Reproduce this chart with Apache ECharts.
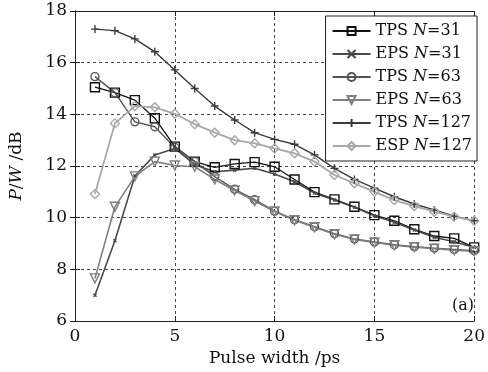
<!DOCTYPE html>
<html>
<head>
<meta charset="utf-8">
<script src="https://cdn.jsdelivr.net/npm/echarts@6/dist/echarts.min.js"></script>
<style>
  html, body { margin: 0; padding: 0; background: #fff; }
  #chart { width: 488px; height: 372px; }
</style>
</head>
<body>
<div id="chart"></div>
<script>
// Pulse width (ps)
const pulseWidth = [1, 2, 3, 4, 5, 6, 7, 8, 9, 10, 11, 12, 13, 14, 15, 16, 17, 18, 19, 20];

// P/W in dB for each scheme and code length
const tps31  = [15.05, 14.84, 14.55, 13.85, 12.75, 12.17, 11.95, 12.08, 12.15, 11.97, 11.48, 10.99, 10.71, 10.42, 10.10, 9.88, 9.55, 9.29, 9.20, 8.85];
const eps31  = [7.00, 9.11, 11.61, 12.43, 12.68, 12.05, 11.78, 11.84, 11.91, 11.69, 11.39, 10.95, 10.68, 10.40, 10.07, 9.82, 9.52, 9.24, 9.07, 8.85];
const tps63  = [15.46, 14.84, 13.71, 13.52, 12.72, 12.17, 11.59, 11.10, 10.70, 10.25, 9.92, 9.65, 9.38, 9.18, 9.06, 8.95, 8.88, 8.82, 8.77, 8.72];
const eps63  = [7.65, 10.42, 11.60, 12.17, 12.02, 11.97, 11.48, 11.05, 10.64, 10.24, 9.90, 9.63, 9.36, 9.16, 9.04, 8.93, 8.86, 8.80, 8.74, 8.70];
const tps127 = [17.30, 17.24, 16.92, 16.42, 15.72, 15.00, 14.32, 13.78, 13.29, 13.03, 12.84, 12.43, 11.91, 11.48, 11.14, 10.81, 10.53, 10.30, 10.06, 9.88];
const esp127 = [10.92, 13.65, 14.32, 14.27, 14.02, 13.62, 13.29, 13.00, 12.88, 12.68, 12.49, 12.17, 11.65, 11.33, 11.00, 10.68, 10.45, 10.23, 10.04, 9.88];

// Axis ticks
const xTicks = [0, 5, 10, 15, 20];
const yTicks = [6, 8, 10, 12, 14, 16, 18];

const FONT = 'DejaVu Serif';
const plus = 'path://M0,-10 L0,10 M-10,0 L10,0';
const cross = 'path://M-10,-10 L10,10 M-10,10 L10,-10';

function pairs(ys) { return pulseWidth.map((x, i) => [x, ys[i]]); }

function makeSeries(name, ys, color, symbol, size, rotate, width) {
  return {
    name: name,
    type: 'line',
    data: pairs(ys),
    symbol: symbol,
    symbolSize: size,
    symbolRotate: rotate || 0,
    showAllSymbol: true,
    lineStyle: { color: color, width: width || 1.4 },
    itemStyle: { color: 'rgba(255,255,255,0)', borderColor: color, borderWidth: 1.4 },
    emphasis: { disabled: true },
    animation: false,
    z: 3
  };
}

const series = [
  makeSeries('TPS N=31', tps31, '#111111', 'rect', 9, 0, 1.3),
  makeSeries('EPS N=31', eps31, '#4a4a4a', cross, 3, 0, 1.6),
  makeSeries('TPS N=63', tps63, '#555555', 'circle', 8, 0, 1.4),
  makeSeries('EPS N=63', eps63, '#808080', 'triangle', 9, 180, 1.6),
  makeSeries('TPS N=127', tps127, '#3a3a3a', plus, 8, 0, 1.4),
  makeSeries('ESP N=127', esp127, '#a8a8a8', 'diamond', 9, 0, 1.8)
];

function legendLabel(name) {
  const m = name.match(/^(\S+) N(=\d+)$/);
  return '{r|' + m[1] + ' }{i|N}{r|' + m[2] + '}';
}

const chart = echarts.init(document.getElementById('chart'), null, { renderer: 'canvas' });

const axisCommon = {
  axisLine: { show: true, lineStyle: { color: '#222', width: 1 } },
  axisTick: { show: true, inside: true, length: 5, lineStyle: { color: '#222' } },
  splitLine: { show: false }
};

chart.setOption({
  backgroundColor: '#fff',
  animation: false,
  grid: { left: 71, right: 9, top: 11, bottom: 51, show: false },
  legend: {
    orient: 'vertical',
    right: 11,
    top: 16,
    itemWidth: 38,
    itemHeight: 10,
    itemGap: 7,
    padding: [7, 5, 7, 6],
    backgroundColor: '#fff',
    borderColor: '#222',
    borderWidth: 1,
    data: series.map(s => s.name),
    formatter: legendLabel,
    textStyle: {
      fontFamily: FONT,
      fontSize: 16,
      color: '#111',
      rich: {
        r: { fontFamily: FONT, fontSize: 16, color: '#111' },
        i: { fontFamily: FONT, fontSize: 16, fontStyle: 'italic', color: '#111' }
      }
    }
  },
  xAxis: [
    Object.assign({}, axisCommon, {
      type: 'value', min: 0, max: 20, interval: 5,
      name: 'Pulse width /ps',
      nameLocation: 'middle',
      nameGap: 27,
      nameTextStyle: { fontFamily: FONT, fontSize: 17, color: '#111' },
      axisLabel: { fontFamily: FONT, fontSize: 17, color: '#111', margin: 7,
                   formatter: v => xTicks.includes(v) ? String(v) : '' },
      splitLine: { show: true, lineStyle: { color: '#444', type: [3, 3], width: 1 } }
    }),
    Object.assign({}, axisCommon, {
      type: 'value', min: 0, max: 20, interval: 5, position: 'top',
      axisLabel: { show: false }
    })
  ],
  yAxis: [
    Object.assign({}, axisCommon, {
      type: 'value', min: 6, max: 18, interval: 2,
      name: '{i|P}{r|/}{i|W}{r| /dB}',
      nameLocation: 'middle',
      nameGap: 50,
      nameTextStyle: {
        rich: {
          i: { fontFamily: FONT, fontSize: 17, fontStyle: 'italic', color: '#111' },
          r: { fontFamily: FONT, fontSize: 17, color: '#111' }
        }
      },
      axisLabel: { fontFamily: FONT, fontSize: 17, color: '#111', margin: 8,
                   formatter: v => yTicks.includes(v) ? String(v) : '' },
      splitLine: { show: true, lineStyle: { color: '#444', type: [3, 3], width: 1 } }
    }),
    Object.assign({}, axisCommon, {
      type: 'value', min: 6, max: 18, interval: 2, position: 'right',
      axisLabel: { show: false }
    })
  ],
  graphic: [{
    type: 'text',
    right: 14,
    bottom: 58,
    style: { text: '(a)', fontFamily: FONT, fontSize: 16, fill: '#111' },
    z: 10
  }],
  series: series
});
</script>
</body>
</html>
